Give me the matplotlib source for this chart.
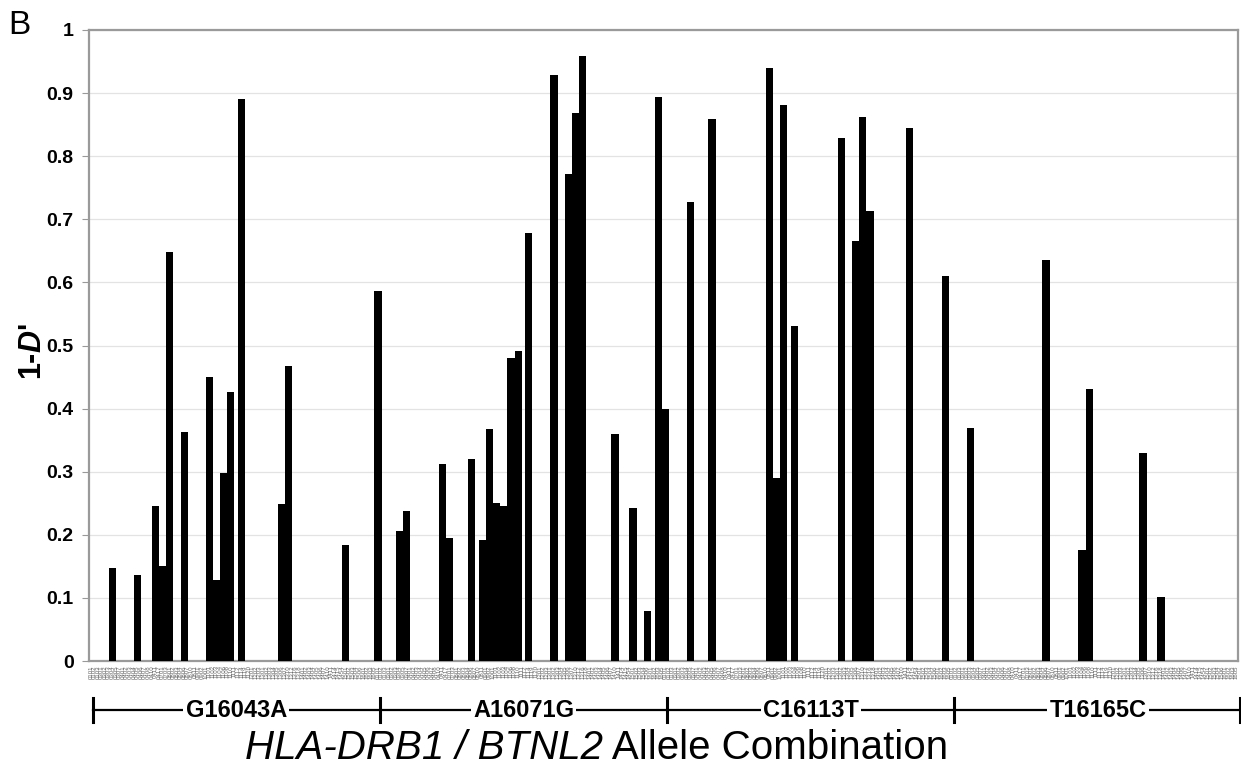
import matplotlib
matplotlib.use("Agg")
import matplotlib.pyplot as plt
import matplotlib.transforms as mtransforms
import numpy as np

plt.rcParams['font.family'] = ['Liberation Sans', 'DejaVu Sans']
plt.rcParams['mathtext.fontset'] = 'custom'
plt.rcParams['mathtext.rm'] = 'Liberation Sans'
plt.rcParams['mathtext.it'] = 'Liberation Sans:italic'
plt.rcParams['mathtext.bf'] = 'Liberation Sans:bold'
plt.rcParams['mathtext.bfit'] = 'Liberation Sans:bold:italic'

# HLA-DRB1 alleles on the inner axis level (same list under every BTNL2 SNP)
alleles = [
    "0101", "0102", "0103", "0301", "0302", "0303", "0304", "0305", "0307",
    "0401", "0402", "0403", "0404", "0405", "0406", "0407", "0408", "0410",
    "0411", "0417", "0701", "0703", "0801", "0802", "0803", "0804", "0806",
    "0807", "0810", "0811", "0901", "0902", "1001", "1101", "1102", "1103",
    "1104", "1106", "1108", "1110", "1111", "1112", "1114", "1119", "1120",
    "1201", "1202", "1203", "1301", "1302", "1303", "1304", "1305", "1306",
    "1307", "1310", "1312", "1316", "1318", "1401", "1402", "1403", "1404",
    "1405", "1406", "1407", "1410", "1411", "1414", "1415", "1454", "1501",
    "1502", "1503", "1504", "1506", "1601", "1602", "1603", "1605",
]

snps = ["G16043A", "A16071G", "C16113T", "T16165C"]

# non-zero 1-D' values per SNP (allele -> value)
g16043a_alleles = ["0304", "0405", "0411", "0701", "0801", "0806", "1101",
                   "1103", "1106", "1110", "1114", "1306", "1310", "1501"]
g16043a_values = [0.147, 0.136, 0.246, 0.150, 0.648, 0.363, 0.450,
                  0.128, 0.298, 0.426, 0.890, 0.249, 0.467, 0.184]

a16071g_alleles = ["0101", "0304", "0307", "0411", "0701", "0806", "0811",
                   "0902", "1101", "1103", "1106", "1110", "1114", "1302",
                   "1306", "1310", "1316", "1410", "1501", "1506", "1603"]
a16071g_values = [0.586, 0.206, 0.238, 0.312, 0.195, 0.320, 0.192,
                  0.368, 0.250, 0.246, 0.480, 0.491, 0.678, 0.929,
                  0.772, 0.868, 0.959, 0.360, 0.242, 0.079, 0.894]

c16113t_alleles = ["0101", "0305", "0405", "0811", "0902", "1101", "1104",
                   "1302", "1306", "1310", "1316", "1414", "1603"]
c16113t_values = [0.399, 0.727, 0.859, 0.940, 0.290, 0.881, 0.531,
                  0.829, 0.666, 0.862, 0.713, 0.845, 0.610]

t16165c_alleles = ["0303", "0806", "1104", "1108", "1306", "1318"]
t16165c_values = [0.369, 0.636, 0.176, 0.431, 0.330, 0.101]

group_data = [
    (g16043a_alleles, g16043a_values),
    (a16071g_alleles, a16071g_values),
    (c16113t_alleles, c16113t_values),
    (t16165c_alleles, t16165c_values),
]

n = len(alleles)
ncat = n * len(snps)

fig = plt.figure(figsize=(12.41, 7.69), dpi=100)
ax = fig.add_axes([0.0717, 0.1404, 0.926, 0.8206])

for g, (names, vals) in enumerate(group_data):
    pos = [g * n + alleles.index(a) for a in names]
    ax.bar(pos, vals, width=2.0, color="black", zorder=3)

ax.set_xlim(-0.5, ncat - 0.5)
ax.set_ylim(0, 1)
ax.set_yticks(np.arange(0, 1.01, 0.1))
ax.set_yticklabels(["0", "0.1", "0.2", "0.3", "0.4", "0.5", "0.6",
                    "0.7", "0.8", "0.9", "1"], fontsize=14, fontweight="bold")
ax.yaxis.grid(True, color="#e3e3e3", linewidth=0.9, zorder=0)
ax.set_axisbelow(True)

ax.set_xticks(np.arange(ncat))
ax.set_xticklabels(alleles * len(snps), rotation=90, fontsize=4.4, color="#666666")
ax.tick_params(axis="x", length=0, pad=3)
ax.tick_params(axis="y", length=5, color="#999999", pad=6)

for side in ["top", "right", "left", "bottom"]:
    ax.spines[side].set_color("#9a9a9a")
    ax.spines[side].set_linewidth(1.6)

# outer level of the category axis: SNP brackets
trans = mtransforms.blended_transform_factory(ax.transData, ax.transAxes)
y_line = -0.0777
left = 0.5
right = ncat
ax.plot([left, right], [y_line, y_line], color="black", lw=1.6,
        transform=trans, clip_on=False)
for g in range(len(snps) + 1):
    xb = g * n + 0.5 if g < len(snps) else right
    ax.plot([xb, xb], [-0.0586, -0.0967], color="black", lw=2.2,
            transform=trans, clip_on=False)
for g, name in enumerate(snps):
    ax.text(g * n + n / 2 + 0.5, y_line, name, transform=trans,
            ha="center", va="center", fontsize=17, fontweight="bold",
            bbox=dict(facecolor="white", edgecolor="none", pad=1.5),
            clip_on=False)

# x axis title: italic gene names followed by plain text
fig.canvas.draw()
renderer = fig.canvas.get_renderer()
t1 = fig.text(0, 1 - 748 / 769, "HLA-DRB1 / BTNL2", fontstyle="italic",
              ha="left", va="center", fontsize=29)
t2 = fig.text(0, 1 - 748 / 769, " Allele Combination",
              ha="left", va="center", fontsize=29)
w1 = t1.get_window_extent(renderer).width / fig.bbox.width
w2 = t2.get_window_extent(renderer).width / fig.bbox.width
x0 = 597 / 1241 - (w1 + w2) / 2
t1.set_x(x0)
t2.set_x(x0 + w1)

fig.text(33 / 1241, 1 - 352 / 769, r"1-$\mathbfit{D}$'", rotation=90,
         ha="center", va="center", fontsize=22, fontweight="bold")
fig.text(19 / 1241, 1 - 25 / 769, "B", ha="center", va="center", fontsize=24)

fig.savefig("out.png", dpi=100)
